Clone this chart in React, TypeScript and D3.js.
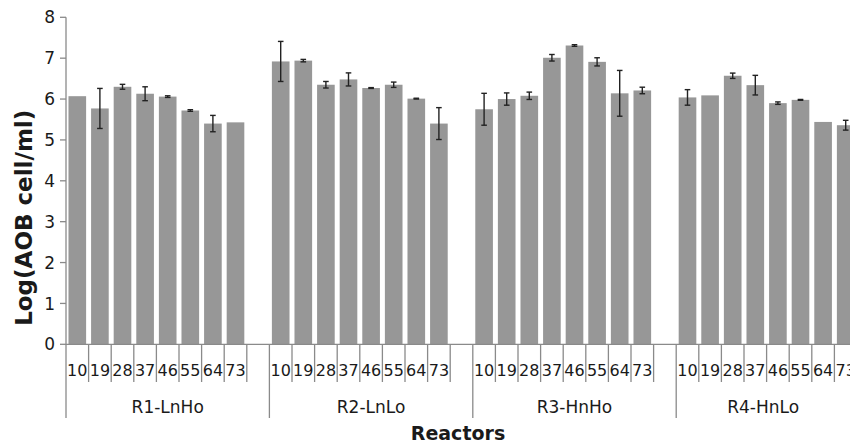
import { scaleBand, scaleLinear } from "d3";

const reactors = ["R1-LnHo", "R2-LnLo", "R3-HnHo", "R4-HnLo"];
const days = ["10", "19", "28", "37", "46", "55", "64", "73"];
const yTicks = [0, 1, 2, 3, 4, 5, 6, 7, 8];

// mean log(AOB cell/ml) per sampling day, with +/- error (0 = no bar shown)
const r1Values = [6.07, 5.77, 6.3, 6.13, 6.06, 5.72, 5.4, 5.43];
const r1Errors = [0, 0.49, 0.06, 0.17, 0.02, 0.02, 0.2, 0];
const r2Values = [6.92, 6.94, 6.35, 6.48, 6.27, 6.35, 6.01, 5.4];
const r2Errors = [0.49, 0.03, 0.08, 0.16, 0.01, 0.065, 0.01, 0.39];
const r3Values = [5.75, 6.0, 6.08, 7.01, 7.31, 6.91, 6.14, 6.21];
const r3Errors = [0.39, 0.15, 0.09, 0.08, 0.02, 0.1, 0.56, 0.08];
const r4Values = [6.04, 6.09, 6.57, 6.34, 5.9, 5.98, 5.44, 5.36];
const r4Errors = [0.19, 0, 0.065, 0.24, 0.03, 0.01, 0, 0.12];

const groupValues = [r1Values, r2Values, r3Values, r4Values];
const groupErrors = [r1Errors, r2Errors, r3Errors, r4Errors];

export default function App() {
  const width = 850;
  const height = 443;
  const left = 66;
  const slot = 22.6;
  const right = left + slot * 9 * reactors.length;
  const top = 17.3;
  const bottom = 344.3;
  const axisColor = "#8a8a8a";
  const textColor = "#1a1a1a";
  const font = "'DejaVu Sans', Verdana, sans-serif";

  const keys = reactors.flatMap((r) => [...days.map((d) => `${r}|${d}`), `${r}|gap`]);
  const slotScale = scaleBand<string>().domain(keys).range([left, right]);
  const barScale = scaleBand<string>()
    .domain(keys)
    .range([left, right])
    .paddingInner(0.22)
    .paddingOuter(0.11);
  const y = scaleLinear().domain([0, 8]).range([bottom, top]);
  const bw = barScale.bandwidth();

  const rows = reactors.flatMap((r, gi) =>
    days.map((d, di) => ({
      key: `${r}|${d}`,
      day: d,
      value: groupValues[gi][di],
      err: groupErrors[gi][di]
    }))
  );

  const boundaries = keys.map((k, i) => ({ x: slotScale(k) ?? 0, long: i % 9 === 0 }));
  boundaries.push({ x: right, long: true });

  return (
    <svg
      width={width}
      height={height}
      style={{ position: "absolute", left: 0, top: 0, background: "#fff" }}
      fontFamily={font}
    >
      {rows.map((row) => {
        const x = barScale(row.key) ?? 0;
        const cx = x + bw / 2;
        return (
          <g key={row.key}>
            <rect x={x} y={y(row.value)} width={bw} height={bottom - y(row.value)} fill="#979797" />
            {row.err > 0 ? (
              <g stroke="#222" strokeWidth="1.4">
                <line x1={cx} x2={cx} y1={y(row.value + row.err)} y2={y(row.value - row.err)} />
                <line x1={cx - 2.8} x2={cx + 2.8} y1={y(row.value + row.err)} y2={y(row.value + row.err)} />
                <line x1={cx - 2.8} x2={cx + 2.8} y1={y(row.value - row.err)} y2={y(row.value - row.err)} />
              </g>
            ) : null}
          </g>
        );
      })}

      {/* value axis */}
      <line x1={left} x2={left} y1={top} y2={bottom} stroke={axisColor} strokeWidth="1.3" />
      {yTicks.map((t) => (
        <g key={t}>
          <line x1={left - 6} x2={left} y1={y(t)} y2={y(t)} stroke={axisColor} strokeWidth="1.3" />
          <text x={left - 11} y={y(t)} dy="0.36em" textAnchor="end" fontSize="17" fill={textColor}>
            {t}
          </text>
        </g>
      ))}

      {/* category axis */}
      <line x1={left} x2={right} y1={bottom} y2={bottom} stroke={axisColor} strokeWidth="1.3" />
      {boundaries.map((b, i) => (
        <line key={i} x1={b.x} x2={b.x} y1={bottom} y2={b.long ? 418 : 382} stroke={axisColor} strokeWidth="1.3" />
      ))}
      {rows.map((row) => (
        <text
          key={row.key}
          x={(slotScale(row.key) ?? 0) + slotScale.bandwidth() / 2}
          y={375.5}
          textAnchor="middle"
          fontSize="16"
          fill={textColor}
        >
          {row.day}
        </text>
      ))}
      {reactors.map((r) => {
        const x0 = slotScale(`${r}|10`) ?? 0;
        const x1 = Math.min(x0 + slotScale.step() * 9, width);
        return (
          <text key={r} x={(x0 + x1) / 2} y={412.5} textAnchor="middle" fontSize="17" fill={textColor}>
            {r}
          </text>
        );
      })}

      <text
        transform={`translate(32, ${(top + bottom) / 2 + 37}) rotate(-90)`}
        textAnchor="middle"
        fontSize="23"
        fontWeight="bold"
        fill={textColor}
      >
        Log(AOB cell/ml)
      </text>
      <text x={(left + width) / 2} y={440} textAnchor="middle" fontSize="19" fontWeight="bold" fill={textColor}>
        Reactors
      </text>
    </svg>
  );
}
